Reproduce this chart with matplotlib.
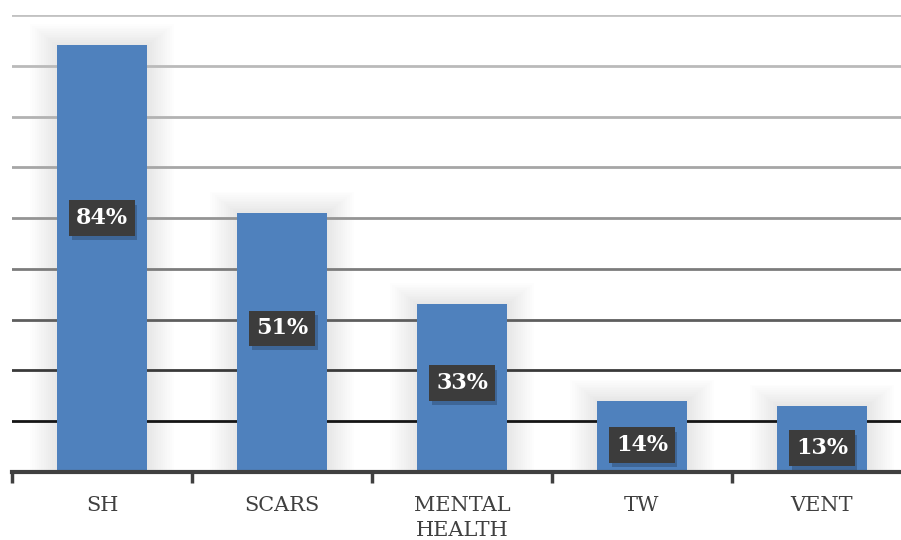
import numpy as np
from matplotlib import pyplot as plt
from matplotlib import patheffects as pe

categories = ["SH", "SCARS", "MENTAL\nHEALTH", "TW", "VENT"]
values = [84, 51, 33, 14, 13]
labels = ["84%", "51%", "33%", "14%", "13%"]
# where the data labels sit (in % units)
label_pos = [50, 28.3, 17.5, 5.3, 4.7]

grid_levels = [10, 20, 30, 40, 50, 60, 70, 80, 90]
grid_colors = ['#151515', '#3a3a3a', '#5e5e5e', '#7c7c7c', '#949494',
               '#a6a6a6', '#b2b2b2', '#bababa', '#c2c2c2']

plt.rcParams['font.family'] = ['DejaVu Serif']
plt.rcParams['hatch.color'] = '#5c5c5c'
plt.rcParams['hatch.linewidth'] = 1.6

fig = plt.figure(figsize=(9.01, 5.4), dpi=100)
ax = fig.add_axes([12 / 901, 1 - 472 / 540, 900 / 901, (472 - 15) / 540])

x = np.arange(len(categories))
bar_color = '#4f81bd'

# soft glow around the bars
for k in range(1, 13):
    ax.bar(x, np.array(values) + k * 0.35, width=0.5 + k * 0.025,
           color='black', alpha=0.008, zorder=0.5, linewidth=0)

for lvl, c in zip(grid_levels, grid_colors):
    ax.axhline(lvl, color=c, lw=2, zorder=1)

ax.bar(x, values, width=0.5, color=bar_color, zorder=2, linewidth=0)

for xi, lab, ly in zip(x, labels, label_pos):
    t = ax.text(xi, ly, lab, ha='center', va='center', fontsize=16,
                fontweight='bold', color='white', zorder=4,
                bbox=dict(boxstyle='square,pad=0.3', fc='#3c3c3c', ec='none', hatch='.'))
    t.get_bbox_patch().set_path_effects([
        pe.SimplePatchShadow(offset=(2, -3), shadow_rgbFace='#1f3550', alpha=0.35),
        pe.Normal()])

ax.set_xlim(-0.5, len(categories) - 0.5)
ax.set_ylim(0, 90)

ax.set_xticks(x)
ax.set_xticklabels(categories, fontsize=15, color='#404040', linespacing=1.45)
ax.tick_params(axis='x', which='major', length=0, pad=17)
ax.set_xticks(np.arange(-0.5, len(categories)), minor=True)
ax.tick_params(axis='x', which='minor', length=8, width=2.5, color='#404040', direction='out')
ax.set_yticks([])

for s in ['top', 'right', 'left']:
    ax.spines[s].set_visible(False)
ax.spines['bottom'].set_color('#404040')
ax.spines['bottom'].set_linewidth(3)
ax.spines['bottom'].set_zorder(5)

plt.savefig('out.png', dpi=100)
